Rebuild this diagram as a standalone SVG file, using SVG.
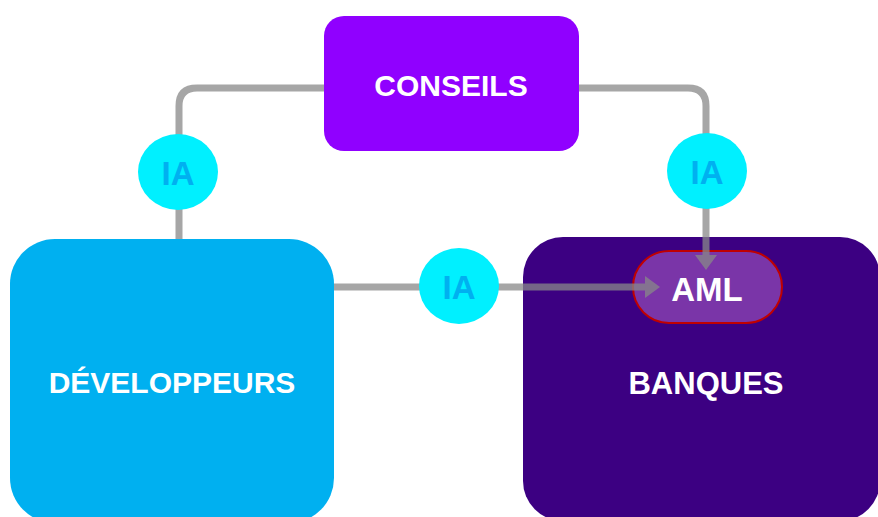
<svg xmlns="http://www.w3.org/2000/svg" width="878" height="517" viewBox="0 0 878 517">
<defs>
<style>
.lbl{font-family:"Liberation Sans",Arial,sans-serif;font-weight:bold;fill:#fff;text-anchor:middle;dominant-baseline:central}
.ia{font-family:"Liberation Sans",Arial,sans-serif;font-weight:bold;fill:#00B0F0;text-anchor:middle;dominant-baseline:central;font-size:33px}
.con{fill:none;stroke:#888;stroke-opacity:0.75;stroke-width:7}
.circ{fill:#00F0FF}
</style>
<marker id="arr" viewBox="0 0 7 10" refX="0" refY="5" markerWidth="15" markerHeight="22" markerUnits="userSpaceOnUse" orient="auto" preserveAspectRatio="none">
<path d="M0,0 L7,5 L0,10 z" fill="#888" fill-opacity="0.75"/>
</marker>
</defs>
<rect width="878" height="517" fill="#fff"/>
<g id="conseils">
<rect x="324" y="16" width="255" height="135" rx="20" fill="#9000FF"/>
<text class="lbl" x="451" y="85" font-size="30">CONSEILS</text>
</g>
<g id="developpeurs">
<rect x="10" y="239" width="324" height="284" rx="45" fill="#00B0F0"/>
<text class="lbl" x="172" y="382" font-size="30">DÉVELOPPEURS</text>
</g>
<g id="banques">
<rect x="523" y="237" width="357" height="284" rx="40" fill="#3C0082"/>
<text class="lbl" x="706" y="383" font-size="31">BANQUES</text>
</g>
<g id="aml">
<rect x="633" y="251" width="149" height="72" rx="36" fill="#7A35A8" stroke="#C00000" stroke-width="2"/>
<text class="lbl" x="707" y="289" font-size="33">AML</text>
</g>
<g id="connectors">
<path class="con" d="M324,88 H197 Q179,88 179,106 V239"/>
<path class="con" d="M579,88 H688 Q706,88 706,106 V255" marker-end="url(#arr)"/>
<path class="con" d="M334,287 H645" marker-end="url(#arr)"/>
</g>
<g id="ia1">
<ellipse class="circ" cx="178" cy="172" rx="40" ry="38"/>
<text class="ia" x="178" y="173">IA</text>
</g>
<g id="ia2">
<ellipse class="circ" cx="707" cy="171" rx="40" ry="38"/>
<text class="ia" x="707" y="172">IA</text>
</g>
<g id="ia3">
<ellipse class="circ" cx="459" cy="286" rx="40" ry="38"/>
<text class="ia" x="459" y="287">IA</text>
</g>
</svg>
